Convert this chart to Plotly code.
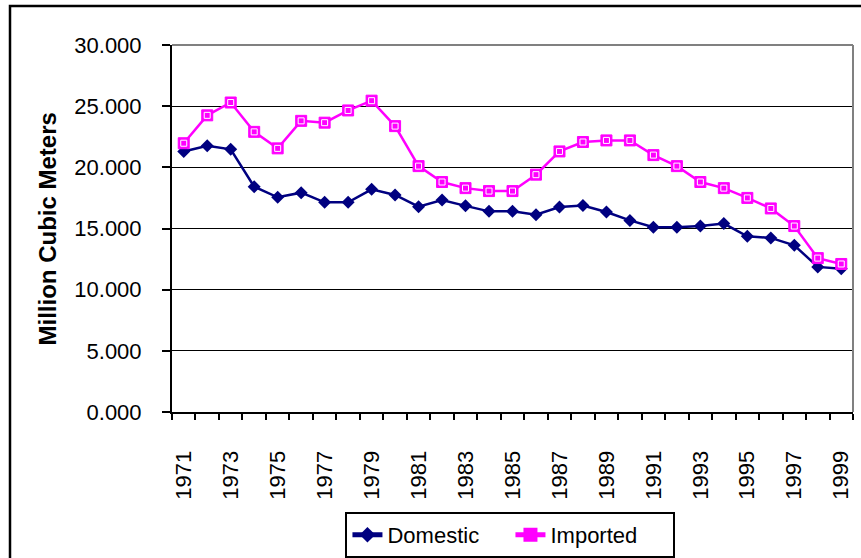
import plotly.graph_objects as go

years = list(range(1971, 2000))
domestic = [21.3, 21.77, 21.47, 18.42, 17.55, 17.93, 17.14, 17.14, 18.2, 17.74,
            16.78, 17.33, 16.85, 16.4, 16.4, 16.13, 16.76, 16.87, 16.35, 15.66,
            15.1, 15.1, 15.2, 15.4, 14.36, 14.23, 13.63, 11.86, 11.7]
imported = [21.97, 24.25, 25.3, 22.9, 21.55, 23.8, 23.65, 24.65, 25.45, 23.37,
            20.1, 18.8, 18.3, 18.06, 18.06, 19.4, 21.3, 22.07, 22.2, 22.2,
            21.0, 20.1, 18.8, 18.3, 17.5, 16.64, 15.2, 12.58, 12.1]
label_years = years[::2]
y_ticks = [0, 5, 10, 15, 20, 25, 30]

W, H = 861, 558
L, R, T, B = 172, 853, 45, 412  # plot-area pixel edges
pw, ph = R - L, B - T


def px(x):
    return (x - L) / pw


def py(y):
    return (B - y) / ph


font = "Liberation Sans, Arial, sans-serif"

fig = go.Figure()
fig.add_trace(go.Scatter(
    x=years, y=domestic, name="Domestic", mode="lines+markers",
    line=dict(color="#000080", width=2.5),
    marker=dict(symbol="diamond", size=10, color="#000080"),
))
fig.add_trace(go.Scatter(
    x=years, y=imported, name="Imported", mode="lines+markers",
    line=dict(color="#FF00FF", width=2.5),
    marker=dict(symbol="square", size=11, color="#FF00FF",
                line=dict(color="#FF00FF", width=1)),
))
# white inner frame on the square markers
fig.add_trace(go.Scatter(
    x=years, y=imported, mode="markers", showlegend=False, hoverinfo="skip",
    marker=dict(symbol="square-open", size=6, color="white",
                line=dict(color="white", width=1)),
))

fig.update_layout(
    width=W, height=H,
    margin=dict(l=L, r=W - R, t=T, b=H - B, pad=0, autoexpand=False),
    paper_bgcolor="white", plot_bgcolor="white",
    font=dict(family=font, size=22, color="black"),
    showlegend=True,
    legend=dict(
        orientation="h", x=0.497, xanchor="center", y=py(512), yanchor="top",
        bordercolor="black", borderwidth=2, bgcolor="white",
        font=dict(family=font, size=22, color="black"),
        itemsizing="constant", tracegroupgap=0, entrywidth=118,
    ),
    xaxis=dict(
        range=[1970.5, 1999.5], showgrid=False, zeroline=False,
        showline=True, linecolor="black", linewidth=2,
        tickmode="array", tickvals=label_years,
        ticktext=[str(y) for y in label_years],
        tickangle=-90, ticks="outside", ticklen=6,
        tickcolor="rgba(0,0,0,0)", ticklabelstandoff=22,
        tickfont=dict(family=font, size=22, color="black"),
        minor=dict(tick0=0.5, dtick=1, ticks="outside", ticklen=6,
                   tickwidth=2, tickcolor="black", showgrid=False),
        automargin=False,
    ),
    yaxis=dict(
        range=[0, 30], tickvals=y_ticks, tickformat=".3f",
        showgrid=True, gridcolor="black", gridwidth=1, zeroline=False,
        showline=True, linecolor="black", linewidth=2,
        ticks="outside", ticklen=8, tickwidth=2, tickcolor="black",
        ticklabelstandoff=16,
        tickfont=dict(family=font, size=22, color="black"),
        automargin=False,
    ),
    annotations=[dict(
        text="<b>Million Cubic Meters</b>", textangle=-90,
        xref="paper", yref="paper", x=px(47), y=0.5,
        xanchor="center", yanchor="middle", showarrow=False,
        font=dict(family=font, size=24, color="black"),
    )],
    shapes=[
        # plot-area frame (top and right edges)
        dict(type="line", xref="paper", yref="paper", x0=0, x1=1, y0=1, y1=1,
             line=dict(color="#808080", width=2), layer="above"),
        dict(type="line", xref="paper", yref="paper", x0=1, x1=1, y0=0, y1=1,
             line=dict(color="#808080", width=2), layer="above"),
        # outer chart border
        dict(type="rect", xref="paper", yref="paper",
             x0=px(10), x1=px(880), y0=py(6), y1=py(580),
             line=dict(color="black", width=2.5), fillcolor="rgba(0,0,0,0)",
             layer="above"),
    ],
)

fig.write_html("out.html")
